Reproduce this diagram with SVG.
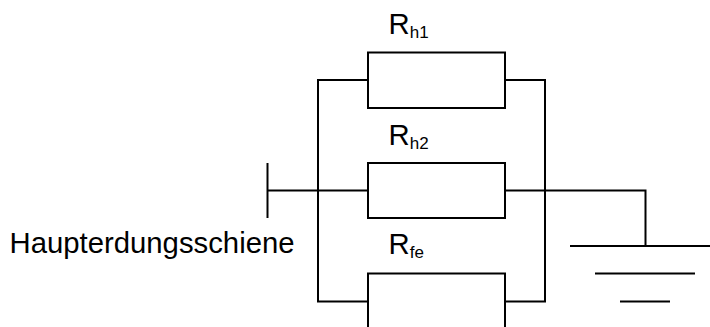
<svg xmlns="http://www.w3.org/2000/svg" width="710" height="327" viewBox="0 0 710 327">
<style>
.w{fill:none;stroke:#000;stroke-width:2}
.t{font-family:"Liberation Sans",Arial,sans-serif;font-size:29.300px;fill:#000}
.s{font-size:17px}
</style>
<rect width="710" height="327" fill="#fff"/>
<g id="connectors" class="w">
<path d="M368 80H318V301.500H368"/>
<path d="M505 80H545V301.500H505"/>
<path d="M267.500 190.500H368"/>
<path d="M505 190.500H645.500V246"/>
<path d="M368 301V327M505 301V327"/>
</g>
<g id="rh1"><rect class="w" x="368" y="52.500" width="137" height="55.500"/><text class="t" x="388.500" y="34">R<tspan class="s" dy="3.500">h1</tspan></text></g>
<g id="rh2"><path class="w" d="M368 218V163H505V218Z"/><text class="t" x="388.500" y="145">R<tspan class="s" dy="3.500">h2</tspan></text></g>
<g id="rfe"><path class="w" d="M368 301V273.500H505V301"/><text class="t" x="388.500" y="254">R<tspan class="s" dy="3.500">fe</tspan></text></g>
<g id="schiene"><path class="w" d="M267.500 163V218"/><text class="t" x="9.500" y="253">Haupterdungsschiene</text></g>
<g id="erde" class="w"><path d="M570 246H710M595 273.500H695M620 301.500H670"/></g>
</svg>
